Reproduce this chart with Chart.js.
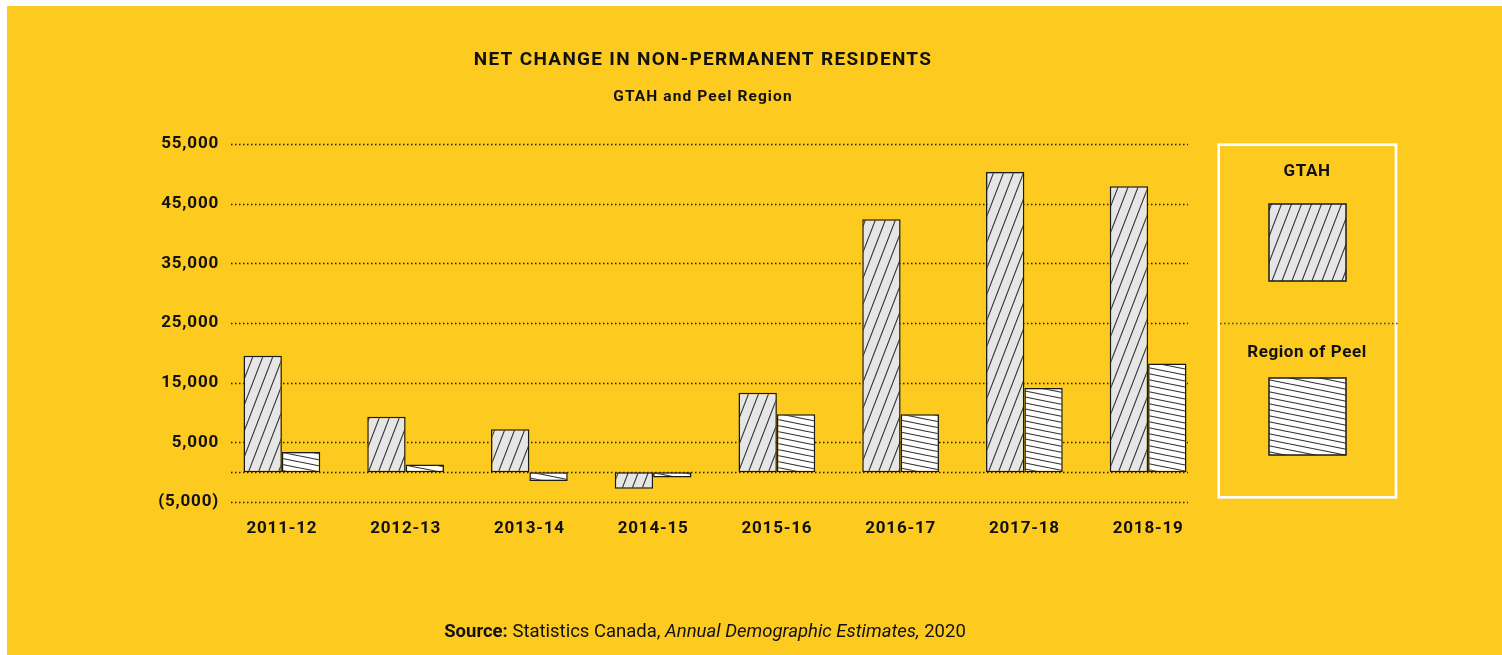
<!DOCTYPE html>
<html>
<head>
<meta charset="utf-8">
<title>Net change in non-permanent residents</title>
<script src="https://cdn.jsdelivr.net/npm/chart.js@4.4.1/dist/chart.umd.min.js"></script>
<style>
  html, body { margin: 0; padding: 0; background: #fff; }
  canvas { display: block; }
</style>
</head>
<body>
<canvas id="npr" width="1502" height="655"></canvas>
<script>
// Données
const periods = ['2011-12', '2012-13', '2013-14', '2014-15', '2015-16', '2016-17', '2017-18', '2018-19'];
const gtahValues = [19500, 9300, 7200, -2800, 13300, 42400, 50300, 47900];
const peelValues = [3400, 1300, -1500, -900, 9700, 9700, 14100, 18200];
const yTicks = [55000, 45000, 35000, 25000, 15000, 5000, 0, -5000];

const YELLOW = '#FDCA20';
const FONT = 'Roboto, "Liberation Sans", sans-serif';

// motif hachuré pour les barres
function hatch(bg, w, h, rising) {
  const c = document.createElement('canvas');
  c.width = w; c.height = h;
  const g = c.getContext('2d');
  g.fillStyle = bg;
  g.fillRect(0, 0, w, h);
  g.strokeStyle = '#333';
  g.lineWidth = 1.1;
  g.beginPath();
  for (const k of [-1, 0, 1]) {
    if (rising) {
      g.moveTo(k * w - w, 2 * h);
      g.lineTo(k * w + 2 * w, -h);
    } else {
      g.moveTo(-w, k * h - h);
      g.lineTo(2 * w, k * h + 2 * h);
    }
  }
  g.stroke();
  return g.createPattern(c, 'repeat');
}

const gtahFill = hatch('#e6e6e6', 10, 26, true);
const peelFill = hatch('#ffffff', 30, 6, false);

function fmt(v) {
  if (v === 0) return '';
  const s = Math.abs(v).toLocaleString('en-US');
  return v < 0 ? '(' + s + ')' : s;
}

function dotted(ctx, x1, x2, y) {
  ctx.beginPath();
  ctx.moveTo(x1, y);
  ctx.lineTo(x2, y);
  ctx.stroke();
}

const decor = {
  id: 'decor',
  beforeDraw(chart) {
    const { ctx, width, height } = chart;
    ctx.save();
    ctx.fillStyle = '#fff';
    ctx.fillRect(0, 0, width, height);
    ctx.fillStyle = YELLOW;
    ctx.fillRect(7, 6, width - 7, height - 6);
    ctx.restore();
    // un peu d'espacement pour les étiquettes des axes
    ctx.letterSpacing = '0.8px';
  },
  beforeDatasetsDraw(chart) {
    const { ctx } = chart;
    const y = chart.scales.y;
    ctx.save();
    ctx.strokeStyle = '#222';
    ctx.lineWidth = 1.5;
    ctx.setLineDash([1.5, 2.5]);
    yTicks.forEach(v => dotted(ctx, 231, 1188, Math.round(y.getPixelForValue(v)) + 0.5));
    ctx.restore();
  },
  afterDraw(chart) {
    const { ctx } = chart;
    const y = chart.scales.y;
    ctx.save();
    ctx.fillStyle = '#111';
    ctx.textAlign = 'center';
    ctx.textBaseline = 'middle';

    // titres
    ctx.letterSpacing = '1.3px';
    ctx.font = 'bold 19px ' + FONT;
    ctx.fillText('NET CHANGE IN NON-PERMANENT RESIDENTS', 703, 60);
    ctx.letterSpacing = '1.1px';
    ctx.font = 'bold 15.5px ' + FONT;
    ctx.fillText('GTAH and Peel Region', 703, 97);

    // source
    ctx.letterSpacing = '0px';
    const parts = [
      ['bold 18.5px ', 'Source:'],
      ['18.5px ', ' Statistics Canada, '],
      ['italic 18.5px ', 'Annual Demographic Estimates,'],
      ['18.5px ', ' 2020']
    ];
    let total = 0;
    parts.forEach(p => { ctx.font = p[0] + FONT; total += ctx.measureText(p[1]).width; });
    let x = 705 - total / 2;
    ctx.textAlign = 'left';
    parts.forEach(p => {
      ctx.font = p[0] + FONT;
      ctx.fillText(p[1], x, 632);
      x += ctx.measureText(p[1]).width;
    });

    // légende
    ctx.strokeStyle = '#fff';
    ctx.lineWidth = 2.7;
    ctx.strokeRect(1218.7, 144.7, 177.3, 352.6);
    ctx.strokeStyle = '#444';
    ctx.lineWidth = 1.5;
    ctx.setLineDash([1.5, 2.5]);
    dotted(ctx, 1220, 1398, Math.round(y.getPixelForValue(25000)) + 0.5);
    ctx.setLineDash([]);

    const ds = chart.data.datasets;
    const rows = [[172, 204], [353, 378]];
    ctx.textAlign = 'center';
    ctx.letterSpacing = '0.6px';
    ds.forEach((d, i) => {
      ctx.fillStyle = '#111';
      ctx.font = 'bold 17px ' + FONT;
      ctx.fillText(d.label, 1307, rows[i][0]);
      ctx.fillStyle = d.backgroundColor;
      ctx.fillRect(1269, rows[i][1], 77, 77);
      ctx.strokeStyle = '#1a1a1a';
      ctx.lineWidth = 1.5;
      ctx.strokeRect(1269, rows[i][1], 77, 77);
    });
    ctx.restore();
  }
};

new Chart(document.getElementById('npr'), {
  type: 'bar',
  data: {
    labels: periods,
    datasets: [{
      label: 'GTAH',
      data: gtahValues,
      backgroundColor: gtahFill,
      borderColor: '#1a1a1a',
      borderWidth: 1.5,
      borderSkipped: false
    }, {
      label: 'Region of Peel',
      data: peelValues,
      backgroundColor: peelFill,
      borderColor: '#1a1a1a',
      borderWidth: 1.5,
      borderSkipped: false
    }]
  },
  options: {
    responsive: false,
    animation: false,
    devicePixelRatio: 1,
    layout: { padding: { top: 144, right: 292, bottom: 113, left: 0 } },
    categoryPercentage: 0.62,
    barPercentage: 1.0,
    plugins: {
      legend: { display: false },
      title: { display: false },
      tooltip: { enabled: false }
    },
    scales: {
      x: {
        grid: { display: false, drawTicks: false },
        border: { display: false },
        afterFit: s => { s.height = 40; },
        ticks: {
          padding: 17,
          color: '#111',
          font: { family: FONT, size: 17, weight: 'bold' }
        }
      },
      y: {
        min: -5000,
        max: 55000,
        afterBuildTicks: s => { s.ticks = yTicks.map(v => ({ value: v })); },
        afterFit: s => { s.width = 220; },
        grid: { display: false, drawTicks: false },
        border: { display: false },
        ticks: {
          padding: 1,
          color: '#111',
          font: { family: FONT, size: 17, weight: 'bold' },
          callback: v => fmt(v)
        }
      }
    }
  },
  plugins: [decor]
});
</script>
</body>
</html>
